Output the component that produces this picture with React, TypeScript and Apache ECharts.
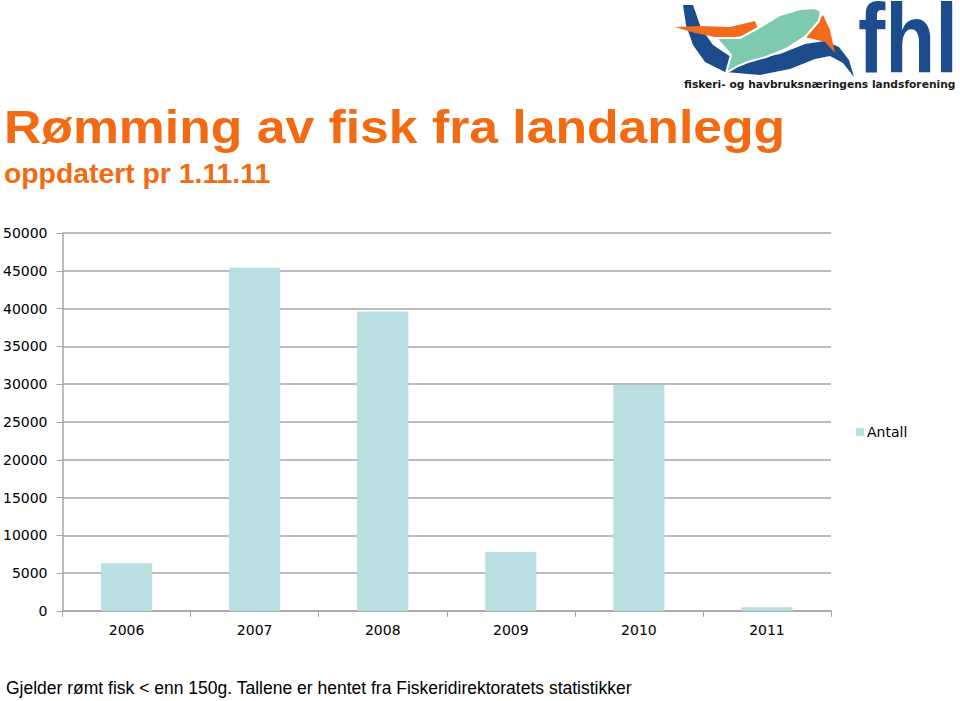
import React, { useEffect, useRef } from "react";
import * as echarts from "echarts";

const years = ["2006", "2007", "2008", "2009", "2010", "2011"];
const antall = [6300, 45400, 39600, 7800, 29900, 500];
const seriesName = "Antall";
const titleText = "Rømming av fisk fra landanlegg";
const subtitleText = "oppdatert pr 1.11.11";
const footerText = "Gjelder rømt fisk < enn 150g. Tallene er hentet fra Fiskeridirektoratets statistikker";
const logoText = "fhl";
const logoSub = "fiskeri- og havbruksnæringens landsforening";

const ORANGE = "#F26A12";
const BLUE = "#1C4C8C";

export default function App() {
  const ref = useRef<HTMLDivElement>(null);
  useEffect(() => {
    if (!ref.current) return;
    const chart = echarts.init(ref.current, null, { renderer: "svg" });
    chart.setOption({
      animation: false,
      backgroundColor: "#ffffff",
      grid: { left: 60, top: 233, right: 129, bottom: 90, containLabel: false },
      legend: {
        data: [seriesName],
        orient: "vertical",
        left: 851,
        top: 420,
        itemWidth: 8,
        itemHeight: 8,
        itemGap: 4,
        icon: "rect",
        textStyle: { fontFamily: "DejaVu Sans", fontSize: 14, color: "#000", padding: [0, 0, 0, -2] },
      },
      xAxis: {
        type: "category",
        data: years,
        axisLine: { lineStyle: { color: "#A6A6A6", width: 1.5 } },
        axisTick: { show: true, length: 6, lineStyle: { color: "#A6A6A6" } },
        axisLabel: { fontFamily: "DejaVu Sans", fontSize: 14, color: "#000", margin: 12 },
      },
      yAxis: {
        type: "value",
        min: 0,
        max: 50000,
        interval: 5000,
        axisLine: { show: true, lineStyle: { color: "#A6A6A6", width: 1.5 } },
        axisTick: { show: true, length: 6, lineStyle: { color: "#A6A6A6" } },
        axisLabel: {
          fontFamily: "DejaVu Sans",
          fontSize: 14,
          color: "#000",
          margin: 15,
          formatter: (v: number) => String(v),
        },
        splitLine: { lineStyle: { color: "#A6A6A6", width: 1.5 } },
      },
      series: [
        {
          name: seriesName,
          type: "bar",
          data: antall,
          barCategoryGap: "60%",
          itemStyle: { color: "#B9DFE2" },
        },
      ],
      graphic: [
        {
          type: "text",
          x: 4,
          y: 103,
          scaleX: 1.1,
          style: {
            text: titleText,
            fontFamily: "Liberation Sans",
            fontWeight: "bold",
            fontSize: 47,
            fill: ORANGE,
          },
        },
        {
          type: "text",
          x: 4,
          y: 160,
          scaleX: 1.05,
          style: {
            text: subtitleText,
            fontFamily: "Liberation Sans",
            fontWeight: "bold",
            fontSize: 27,
            fill: ORANGE,
          },
        },
        {
          type: "text",
          left: 6,
          top: 679,
          style: {
            text: footerText,
            fontFamily: "Liberation Sans",
            fontSize: 17.5,
            fill: "#000",
          },
        },
        // logo
        {
          type: "group",
          silent: true,
          children: [
            {
              type: "polygon",
              shape: {
                points: [
                  [683, 5], [686, 25], [693, 45], [705, 62], [725, 72], [760, 75], [790, 69], [815, 59],
                  [830, 56], [843, 63], [854, 77], [849, 60], [839, 47], [825, 41], [805, 44], [780, 54],
                  [755, 59], [731, 57], [713, 45], [701, 28], [693, 5],
                ],
              },
              style: { fill: BLUE },
            },
            {
              type: "polygon",
              shape: {
                points: [[675, 27], [700, 26], [730, 27], [755, 21], [760, 34], [735, 37], [715, 37], [695, 33]],
              },
              style: { fill: "#F26A1B" },
            },
            {
              type: "polygon",
              shape: {
                points: [[805, 37], [815, 24], [823, 15], [830, 30], [835, 53], [825, 42]],
              },
              style: { fill: "#F26A1B" },
            },
            {
              type: "polygon",
              shape: {
                points: [
                  [716, 38], [740, 38], [760, 27], [780, 15], [800, 9], [815, 8], [821, 11], [819, 21],
                  [806, 36], [786, 49], [766, 57], [748, 62], [738, 66], [726, 73], [731, 55],
                ],
              },
              style: { fill: "#7ECAAE", stroke: "#ffffff", lineWidth: 2, lineJoin: "round" },
            },
            {
              type: "text",
              x: 858,
              y: 6,
              scaleX: 1.05,
              scaleY: 1.26,
              style: {
                text: logoText,
                fontFamily: "Liberation Sans",
                fontWeight: "bold",
                fontSize: 78,
                lineHeight: 50,
                fill: BLUE,
              },
            },
            {
              type: "text",
              x: 684,
              y: 79,
              style: {
                text: logoSub,
                fontFamily: "DejaVu Sans",
                fontWeight: "bold",
                fontSize: 10.7,
                fill: "#1a1a1a",
              },
            },
          ],
        },
      ],
    });
    return () => chart.dispose();
  }, []);
  return <div ref={ref} style={{ width: 960, height: 701, position: "absolute", left: 0, top: 0 }} />;
}
